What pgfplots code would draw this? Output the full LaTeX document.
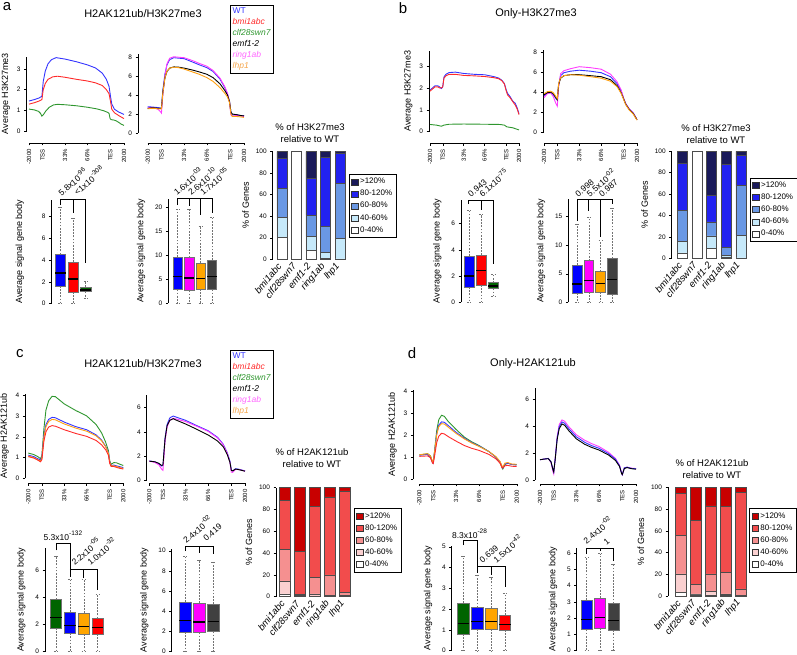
\documentclass[border=0pt]{standalone}
\usepackage{fontspec}
\setmainfont{Liberation Sans}
\usepackage{pgfplots}
\pgfplotsset{compat=1.18}
\usepgfplotslibrary{statistics}

\definecolor{cWT}{HTML}{3535FF}
\definecolor{cbmi}{HTML}{FF2A2A}
\definecolor{cclf}{HTML}{2E962E}
\definecolor{cemf}{HTML}{000000}
\definecolor{cring}{HTML}{FF3CFF}
\definecolor{clhp}{HTML}{FFA010}
\definecolor{tring}{HTML}{FF66FF}
\definecolor{tlhp}{HTML}{F5A54A}
\definecolor{bWT}{HTML}{0000FF}
\definecolor{bbmi}{HTML}{FF0000}
\definecolor{bclf}{HTML}{006400}
\definecolor{bemf}{HTML}{404040}
\definecolor{bring}{HTML}{FF00FF}
\definecolor{blhp}{HTML}{FFA500}
\definecolor{sA}{HTML}{FFFFFF}
\definecolor{sB}{HTML}{C6E9FA}
\definecolor{sC}{HTML}{6A98E4}
\definecolor{sD}{HTML}{2222F0}
\definecolor{sE}{HTML}{1A1A5A}
\definecolor{rB}{HTML}{FAD0D0}
\definecolor{rC}{HTML}{F59090}
\definecolor{rD}{HTML}{F24C4C}
\definecolor{rE}{HTML}{C80000}

\pgfplotsset{
  base/.style={scale only axis, anchor=south west, clip=false,
    /pgf/number format/assume math mode=true,
    tick align=outside, major tick length=2.5pt, tick style={black, line width=0.4pt},
    axis line style={line width=0.45pt},
    tick label style={font=\fontsize{6.5}{7}\selectfont},
    label style={font=\fontsize{9}{10}\selectfont}},
  prof/.style={base, axis x line*=bottom, axis y line*=left, xmin=0, xmax=140, ymin=0,
    xtick={0,20,53,86,120,140}, xticklabels={-2000,TSS,33\%,66\%,TES,2000},
    xticklabel style={rotate=90, anchor=east, font=\fontsize{6}{7}\selectfont}},
  prl/.style={line width=0.9pt, no markers},
  bxp/.style={base, axis x line=none, axis y line*=left, ymin=0,
    ylabel={Average signal gene body}, ylabel style={yshift=3pt},
    boxplot/draw direction=y,
    boxplot/box extend=0.82, boxplot/whisker extend=0.3,
    boxplot/every median/.style={draw=black, fill=none, solid, line width=1.2pt},
    boxplot/every whisker/.style={draw=black!55, fill=none, line width=0.45pt, dash pattern=on 1.8pt off 1.3pt}},
  stk/.style={base, ybar stacked, bar width=10pt, axis x line*=bottom, axis y line*=left,
    x axis line style={draw=none}, xtick style={draw=none},
    ymin=0, ymax=100, ytick={0,20,...,100}, xtick={1,...,5},
    xticklabels={bmi1abc,clf28swn7,emf1-2,ring1ab,lhp1},
    xticklabel style={rotate=50, anchor=east, font=\fontsize{9.5}{10}\selectfont\itshape},
    ylabel={\% of Genes}, reverse legend,
    legend style={draw=black, anchor=north west, font=\fontsize{8}{9}\selectfont,
      inner sep=2pt, row sep=1pt, cells={anchor=west}},
    legend image code/.code={\draw[#1,draw=black!80] (0pt,-3pt) rectangle (6.5pt,3pt);},
    every axis plot/.append style={draw=black!70, line width=0.4pt}},
}
\tikzset{pv/.style={rotate=40, anchor=south west, inner sep=0.5pt, font=\fontsize{8.5}{9}\selectfont},
  br/.style={line width=0.6pt}}
\newcommand\ex[1]{\raisebox{0.5em}{\fontsize{6.5}{7}\selectfont #1}}
\newcommand\bx[7]{\addplot[boxplot prepared={draw position=#1,lower whisker=#2,lower quartile=#3,median=#4,upper quartile=#5,upper whisker=#6},boxplot/draw direction=y,fill=#7,draw=black!55] coordinates {};}

\begin{document}
\begin{tikzpicture}
\path[use as bounding box] (0,0) rectangle (797pt,655pt);

% ---------------- panel a
\node[font=\fontsize{15}{15}\selectfont, inner sep=0pt] at (7pt,648pt) {a};
\node[font=\fontsize{11}{12}\selectfont] at (143pt,641pt) {H2AK121ub/H3K27me3};
\node[draw, anchor=north west, align=left, inner sep=2.5pt, font=\fontsize{8.5}{11}\selectfont] at (230pt,650pt)
 {\textcolor{cWT}{WT}\\\textcolor{cbmi}{\itshape bmi1abc}\\\textcolor{cclf}{\itshape clf28swn7}\\{\itshape emf1-2}\\\textcolor{tring}{\itshape ring1ab}\\\textcolor{tlhp}{\itshape lhp1}};

\begin{axis}[prof, at={(29pt,524pt)}, width=95pt, height=74.4pt, ymax=3.6, ytick={0,1,2,3},
  axis x line shift=12pt, axis y line shift=2.5pt, ylabel={Average H3K27me3}]
\addplot[prl, cWT] coordinates {(0,1.45)(8,1.52)(15,1.6)(19,1.68)(21,2.4)(24,2.9)(28,3.25)(33,3.45)(40,3.55)(53,3.48)(70,3.35)(86,3.2)(98,3.05)(108,2.8)(114,2.5)(118,2.15)(120,1.7)(122,1.3)(126,1.05)(132,0.92)(140,0.8)};
\addplot[prl, cbmi] coordinates {(0,1.3)(8,1.37)(15,1.45)(19,1.52)(21,2.0)(24,2.3)(28,2.5)(35,2.62)(42,2.65)(53,2.6)(70,2.5)(86,2.42)(98,2.33)(108,2.2)(114,2.0)(118,1.8)(120,1.45)(122,1.05)(126,0.88)(132,0.75)(140,0.6)};
\addplot[prl, cclf] coordinates {(0,1.06)(8,1.02)(14,0.95)(17,0.85)(19,0.72)(21,0.78)(25,0.98)(30,1.15)(36,1.26)(42,1.29)(53,1.27)(70,1.22)(86,1.15)(100,1.07)(110,0.98)(116,0.9)(118,0.85)(119.5,0.6)(121,0.55)(125,0.53)(128,0.5)(132,0.42)(136,0.33)(140,0.27)};
\end{axis}

\begin{axis}[prof, at={(147.7pt,522pt)}, width=96.3pt, height=78.6pt, ymax=8.3, ytick={0,2,4,6,8},
  axis x line shift=10pt, axis y line shift=9.7pt]
\addplot[prl, cWT] coordinates {(0,2.75)(5,2.75)(10,2.72)(15,2.68)(18,2.65)(20,2.6)(22,4.5)(25,6.2)(28,7.2)(32,7.75)(38,7.95)(45,7.9)(53,7.85)(65,7.5)(75,7.2)(86,6.9)(95,6.5)(105,5.7)(112,4.8)(116,4.1)(119,3.3)(121,2.2)(123,1.9)(128,1.95)(135,1.85)(140,1.8)};
\addplot[prl, cring] coordinates {(0,2.65)(5,2.7)(10,2.65)(15,2.5)(18,2.3)(20,2.1)(22,4.0)(25,6.0)(28,7.3)(32,7.9)(38,8.05)(45,8.0)(53,7.95)(65,7.65)(75,7.35)(86,7.05)(95,6.6)(105,5.8)(112,4.9)(116,4.2)(119,3.2)(121,1.9)(123,1.75)(128,1.85)(135,1.8)(140,1.75)};
\addplot[prl, cemf] coordinates {(0,2.6)(5,2.65)(10,2.65)(15,2.6)(18,2.6)(20,2.6)(22,4.3)(25,5.8)(28,6.5)(32,6.85)(38,6.98)(45,6.95)(53,6.85)(65,6.65)(75,6.45)(86,6.2)(95,5.85)(105,5.2)(112,4.5)(116,4.0)(119,3.3)(121,2.2)(123,2.0)(128,1.95)(135,1.85)(140,1.8)};
\addplot[prl, clhp] coordinates {(0,2.55)(5,2.6)(10,2.6)(15,2.55)(18,2.55)(20,2.55)(22,4.2)(25,5.8)(28,6.55)(32,6.85)(38,6.95)(45,6.9)(53,6.75)(65,6.45)(75,6.2)(86,5.85)(95,5.45)(105,4.8)(112,4.2)(116,3.8)(119,3.2)(121,2.0)(123,1.75)(128,1.75)(135,1.7)(140,1.65)};
\end{axis}

\begin{axis}[bxp, at={(51.4pt,351.3pt)}, width=43.2pt, height=104.1pt, xmin=0.3, xmax=3.7, ymax=9.5, ytick={0,2,4,6,8}, ylabel style={yshift=8pt}]
\bx{1}{0}{1.6}{2.8}{4.5}{8.8}{bWT}
\bx{2}{0}{1.05}{2.25}{3.8}{7.8}{bbmi}
\bx{3}{0.5}{1.1}{1.25}{1.5}{2.05}{bclf}
\draw[br] (axis cs:1,9.0) -- (axis cs:1,9.5) -- (axis cs:3,9.5) -- (axis cs:3,3.7);
\draw[br] (axis cs:2,9.5) -- (axis cs:2,8.25);
\node[pv] at (axis cs:1.1,9.7) {5.8x10\ex{-96}};
\node[pv] at (axis cs:2.35,9.8) {<1x10\ex{-308}};
\end{axis}

\begin{axis}[bxp, at={(168.3pt,352pt)}, width=50.4pt, height=104.2pt, xmin=0.18, xmax=4.6, ymax=21.7, ytick={0,5,10,15,20}]
\bx{1}{0}{2.8}{5.5}{9.6}{19.5}{bWT}
\bx{2}{0}{2.6}{5.2}{9.5}{19.5}{bring}
\bx{3}{0}{2.9}{5.1}{8.3}{16}{blhp}
\bx{4}{0}{2.8}{5.5}{9.0}{17.8}{bemf}
\draw[br] (axis cs:1,20.4) -- (axis cs:1,21.7) -- (axis cs:4,21.7) -- (axis cs:4,18.7);
\draw[br] (axis cs:2,21.7) -- (axis cs:2,20.1);
\draw[br] (axis cs:3,21.7) -- (axis cs:3,18.3);
\node[pv] at (axis cs:0.95,22.1) {1.6x10\ex{-03}};
\node[pv] at (axis cs:2.2,22.1) {2.6x10\ex{-10}};
\node[pv] at (axis cs:3.25,22.1) {1.7x10\ex{-05}};
\end{axis}

\node[font=\fontsize{9.5}{12}\selectfont, align=center] at (310pt,522pt) {\% of H3K27me3\\relative to WT};
\begin{axis}[stk, at={(272.7pt,395.7pt)}, width=73.3pt, height=107.7pt, xmin=0.38, xmax=5.4,
  legend style={at={(1.041,0.792)}}]
\addplot[fill=sA] coordinates {(1,20.5)(2,100)(3,8)(4,1)(5,0.5)};
\addplot[fill=sB] coordinates {(1,18.5)(2,0)(3,13)(4,5.5)(5,19)};
\addplot[fill=sC] coordinates {(1,27)(2,0)(3,20)(4,24)(5,51)};
\addplot[fill=sD] coordinates {(1,28)(2,0)(3,34)(4,64)(5,28)};
\addplot[fill=sE] coordinates {(1,6)(2,0)(3,25)(4,5.5)(5,1.5)};
\legend{0-40\%,40-60\%,60-80\%,80-120\%,>120\%}
\end{axis}

% ---------------- panel b
\node[font=\fontsize{15}{15}\selectfont, inner sep=0pt] at (403pt,647pt) {b};
\node[font=\fontsize{11}{12}\selectfont] at (536pt,641pt) {Only-H3K27me3};

\begin{axis}[prof, at={(430pt,523.3pt)}, width=89pt, height=81pt, ymax=3.7, ytick={0,1,2,3},
  axis x line shift=11.6pt, axis y line shift=1pt, ylabel={Average H3K27me3}]
\addplot[prl, cWT] coordinates {(0,1.9)(4,2.0)(8,2.1)(12,2.1)(15,2.05)(18,1.97)(20,2.05)(22,2.5)(25,2.62)(30,2.7)(40,2.72)(53,2.66)(70,2.62)(86,2.6)(100,2.52)(108,2.45)(113,2.35)(117,2.2)(120,1.9)(122,1.75)(126,1.6)(130,1.4)(134,1.3)(137,1.1)(140,0.82)};
\addplot[prl, cbmi] coordinates {(0,1.85)(4,1.95)(8,2.05)(12,2.05)(15,2.0)(18,2.0)(20,2.05)(22,2.45)(25,2.55)(30,2.62)(40,2.62)(53,2.57)(70,2.55)(86,2.52)(100,2.47)(108,2.42)(113,2.33)(117,2.18)(120,1.85)(122,1.68)(126,1.55)(130,1.38)(134,1.22)(137,1.05)(140,0.78)};
\addplot[prl, cclf] coordinates {(0,0.33)(10,0.3)(18,0.25)(22,0.3)(30,0.34)(53,0.35)(86,0.34)(110,0.33)(117,0.3)(121,0.22)(130,0.18)(140,0.08)};
\end{axis}

\begin{axis}[prof, at={(544pt,522.3pt)}, width=93pt, height=83pt, ymax=8.3, ytick={0,2,4,6,8},
  axis x line shift=10.5pt, axis y line shift=1pt]
\addplot[prl, cWT] coordinates {(0,3.7)(5,3.95)(10,4.0)(14,3.8)(18,3.4)(20,3.25)(22,4.8)(25,5.7)(30,6.0)(40,6.15)(53,6.25)(70,6.15)(86,6.0)(100,5.6)(110,4.9)(116,4.2)(120,3.4)(123,2.9)(128,2.4)(134,2.0)(140,1.3)};
\addplot[prl, cring] coordinates {(0,3.5)(5,3.9)(10,4.0)(14,3.6)(18,2.9)(20,2.65)(22,4.6)(25,5.9)(30,6.2)(40,6.4)(53,6.6)(70,6.5)(86,6.35)(100,5.85)(110,5.1)(116,4.3)(120,3.4)(123,2.9)(128,2.4)(134,2.0)(140,1.3)};
\addplot[prl, cemf] coordinates {(0,3.8)(5,4.0)(10,4.05)(14,3.9)(18,3.5)(20,3.3)(22,4.8)(25,5.45)(30,5.7)(40,5.8)(53,5.8)(70,5.7)(86,5.6)(100,5.3)(110,4.7)(116,4.0)(120,3.35)(123,2.85)(128,2.35)(134,1.95)(140,1.3)};
\addplot[prl, clhp] coordinates {(0,3.9)(5,4.1)(10,4.15)(14,4.0)(18,3.6)(20,3.4)(22,4.9)(25,5.5)(30,5.7)(40,5.8)(53,5.75)(70,5.6)(86,5.45)(100,5.15)(110,4.6)(116,3.95)(120,3.3)(123,2.8)(128,2.3)(134,1.9)(140,1.25)};
\end{axis}

\begin{axis}[bxp, at={(461pt,352.7pt)}, width=39.7pt, height=102.2pt, xmin=0.37, xmax=3.6, ymax=7.8, ytick={0,2,4,6}]
\bx{1}{0}{1.15}{2.0}{3.55}{7.05}{bWT}
\bx{2}{0}{1.3}{2.4}{3.6}{6.7}{bbmi}
\bx{3}{0.45}{1.05}{1.25}{1.5}{2.15}{bclf}
\draw[br] (axis cs:1,7.5) -- (axis cs:1,7.8) -- (axis cs:3,7.8) -- (axis cs:3,2.95);
\draw[br] (axis cs:2,7.8) -- (axis cs:2,7.05);
\node[pv] at (axis cs:1.2,7.95) {0.943};
\node[pv] at (axis cs:2.12,7.95) {6.1x10\ex{-75}};
\end{axis}

\begin{axis}[bxp, at={(568.3pt,352.7pt)}, width=50.8pt, height=102.8pt, xmin=0.25, xmax=4.6, ymax=18, ytick={0,5,10,15}]
\bx{1}{0}{1.6}{3.2}{6.5}{13.7}{bWT}
\bx{2}{0}{1.8}{3.8}{7.3}{14.9}{bring}
\bx{3}{0}{1.8}{3.3}{5.4}{10.8}{blhp}
\bx{4}{0}{1.5}{4.0}{7.7}{16.5}{bemf}
\draw[br] (axis cs:1,14.3) -- (axis cs:1,18) -- (axis cs:4,18) -- (axis cs:4,17.2);
\draw[br] (axis cs:2,18) -- (axis cs:2,16.0);
\draw[br] (axis cs:3,18) -- (axis cs:3,11.5);
\node[pv] at (axis cs:1.1,18.2) {0.998};
\node[pv] at (axis cs:2.1,18.2) {5.5x10\ex{-02}};
\node[pv] at (axis cs:3.15,18.2) {0.987};
\end{axis}

\node[font=\fontsize{9.5}{12}\selectfont, align=center] at (716pt,521pt) {\% of H3K27me3\\relative to WT};
\begin{axis}[stk, at={(671.7pt,396.7pt)}, width=74.9pt, height=107pt, xmin=0.27, xmax=5.4,
  legend style={at={(1.045,0.753)}}]
\addplot[fill=sA] coordinates {(1,5)(2,100)(3,9)(4,1)(5,0.5)};
\addplot[fill=sB] coordinates {(1,11)(2,0)(3,12)(4,1.5)(5,21)};
\addplot[fill=sC] coordinates {(1,29)(2,0)(3,13)(4,8)(5,46.5)};
\addplot[fill=sD] coordinates {(1,43.5)(2,0)(3,25)(4,77.5)(5,28)};
\addplot[fill=sE] coordinates {(1,11.5)(2,0)(3,41)(4,12)(5,4)};
\legend{0-40\%,40-60\%,60-80\%,80-120\%,>120\%}
\end{axis}

% ---------------- panel c
\node[font=\fontsize{15}{15}\selectfont, inner sep=0pt] at (20pt,301pt) {c};
\node[font=\fontsize{11}{12}\selectfont] at (143pt,291pt) {H2AK121ub/H3K27me3};
\node[draw, anchor=north west, align=left, inner sep=2.5pt, font=\fontsize{8.5}{11}\selectfont] at (230pt,305pt)
 {\textcolor{cWT}{WT}\\\textcolor{cbmi}{\itshape bmi1abc}\\\textcolor{cclf}{\itshape clf28swn7}\\{\itshape emf1-2}\\\textcolor{tring}{\itshape ring1ab}\\\textcolor{tlhp}{\itshape lhp1}};

\begin{axis}[prof, at={(28.3pt,176.7pt)}, width=95pt, height=84.7pt, ymax=4.1, ytick={0,1,2,3,4},
  axis x line shift=5pt, axis y line shift=3pt, ylabel={Average H2AK121ub}]
\addplot[prl, cclf] coordinates {(0,1.22)(8,1.15)(14,1.05)(18,0.95)(20,1.1)(23,2.4)(26,3.3)(30,3.75)(35,3.97)(40,3.95)(53,3.6)(70,3.28)(86,3.02)(100,2.6)(108,2.2)(114,1.75)(118,1.35)(120,0.85)(122,0.68)(126,0.76)(130,0.75)(135,0.68)(140,0.62)};
\addplot[prl, cWT] coordinates {(0,1.12)(8,1.05)(14,0.95)(18,0.88)(20,1.0)(23,2.1)(26,2.6)(30,2.85)(35,2.95)(40,2.93)(53,2.72)(70,2.5)(86,2.35)(100,2.1)(108,1.85)(114,1.55)(118,1.25)(120,0.8)(122,0.62)(126,0.64)(130,0.6)(135,0.56)(140,0.52)};
\addplot[prl, clhp] coordinates {(0,1.08)(8,1.0)(14,0.9)(18,0.83)(20,0.95)(23,2.0)(26,2.5)(30,2.75)(35,2.85)(40,2.83)(53,2.63)(70,2.43)(86,2.28)(100,2.05)(108,1.82)(114,1.52)(118,1.22)(120,0.78)(122,0.6)(126,0.6)(130,0.57)(135,0.52)(140,0.48)};
\addplot[prl, cbmi] coordinates {(0,1.05)(8,0.98)(14,0.88)(18,0.8)(20,0.9)(23,1.8)(26,2.25)(30,2.48)(35,2.55)(40,2.52)(53,2.35)(70,2.17)(86,2.03)(100,1.83)(108,1.62)(114,1.38)(118,1.12)(120,0.72)(122,0.58)(126,0.57)(130,0.53)(135,0.48)(140,0.45)};
\end{axis}

\begin{axis}[prof, at={(149.3pt,174.3pt)}, width=95.7pt, height=85.4pt, ymax=7, ytick={0,2,4,6},
  axis x line shift=2.6pt, axis y line shift=2.6pt]
\addplot[prl, cWT] coordinates {(0,1.62)(8,1.55)(14,1.4)(18,1.2)(20,1.25)(23,3.5)(26,4.6)(30,5.15)(35,5.3)(40,5.2)(53,4.95)(70,4.5)(86,4.1)(100,3.55)(108,3.0)(114,2.3)(118,1.6)(120,0.85)(122,0.8)(126,0.98)(130,0.95)(135,0.88)(140,0.8)};
\addplot[prl, cring] coordinates {(0,1.6)(8,1.5)(14,1.3)(18,0.95)(20,0.85)(23,3.2)(26,4.4)(30,4.95)(35,5.12)(40,5.05)(53,4.85)(70,4.45)(86,4.05)(100,3.5)(108,2.95)(114,2.25)(118,1.5)(120,0.7)(122,0.68)(126,0.92)(130,0.92)(135,0.86)(140,0.78)};
\addplot[prl, cemf] coordinates {(0,1.6)(8,1.55)(14,1.42)(18,1.25)(20,1.3)(23,3.4)(26,4.5)(30,4.95)(35,5.08)(40,4.95)(53,4.65)(70,4.2)(86,3.75)(100,3.25)(108,2.8)(114,2.15)(118,1.5)(120,0.85)(122,0.8)(126,0.95)(130,0.92)(135,0.85)(140,0.78)};
\end{axis}

\begin{axis}[bxp, at={(45pt,3.3pt)}, width=61pt, height=103.4pt, xmin=0.21, xmax=4.6, ymax=7.6, ytick={0,2,4,6}]
\bx{1}{0}{1.75}{2.5}{3.85}{7.05}{bclf}
\bx{2}{0}{1.35}{1.95}{2.9}{5.3}{bWT}
\bx{3}{0}{1.3}{1.85}{2.85}{5.3}{blhp}
\bx{4}{0}{1.3}{1.75}{2.45}{4.2}{bbmi}
\draw[br] (axis cs:1,7.45) -- (axis cs:1,8.0) -- (axis cs:2,8.0) -- (axis cs:2,5.5);
\draw[br] (axis cs:2,6.05) -- (axis cs:4,6.05) -- (axis cs:4,4.5);
\draw[br] (axis cs:3,6.05) -- (axis cs:3,5.45);
\node[anchor=south, inner sep=1pt, font=\fontsize{8.5}{9}\selectfont] at (axis cs:1.5,8.1) {5.3x10\ex{-132}};
\node[pv] at (axis cs:2.35,6.25) {2.2x10\ex{-05}};
\node[pv] at (axis cs:3.5,6.25) {1.0x10\ex{-32}};
\end{axis}

\begin{axis}[bxp, at={(171.7pt,3.3pt)}, width=50.1pt, height=103pt, xmin=0.06, xmax=3.6, ymax=10.2, ytick={0,2,4,6,8,10}]
\bx{1}{0}{1.95}{3.05}{4.95}{9.5}{bWT}
\bx{2}{0}{1.9}{2.95}{4.8}{9.1}{bring}
\bx{3}{0}{2.0}{3.0}{4.75}{8.9}{bemf}
\draw[br] (axis cs:1,10.0) -- (axis cs:1,10.4) -- (axis cs:3,10.4) -- (axis cs:3,9.67);
\draw[br] (axis cs:2,10.4) -- (axis cs:2,9.74);
\node[pv] at (axis cs:1.1,10.6) {2.4x10\ex{-02}};
\node[pv] at (axis cs:2.5,10.8) {0.419};
\end{axis}

\node[font=\fontsize{9.5}{12}\selectfont, align=center] at (312pt,196.5pt) {\% of H2AK121ub\\relative to WT};
\begin{axis}[stk, at={(276pt,58.3pt)}, width=75pt, height=109pt, xmin=0.4, xmax=5.4, bar width=11pt,
  legend style={at={(1.04,0.811)}}]
\addplot[fill=sA] coordinates {(1,2.5)(2,0.5)(3,0.5)(4,0.5)(5,0.5)};
\addplot[fill=rB] coordinates {(1,12)(2,0.5)(3,2)(4,0.5)(5,0.5)};
\addplot[fill=rC] coordinates {(1,29)(2,1)(3,15.5)(4,19)(5,3)};
\addplot[fill=rD] coordinates {(1,45)(2,39.5)(3,65)(4,71.5)(5,93)};
\addplot[fill=rE] coordinates {(1,11.5)(2,58.5)(3,17)(4,8.5)(5,3)};
\legend{0-40\%,40-60\%,60-80\%,80-120\%,>120\%}
\end{axis}

% ---------------- panel d
\node[font=\fontsize{15}{15}\selectfont, inner sep=0pt] at (412pt,302.3pt) {d};
\node[font=\fontsize{11}{12}\selectfont] at (533pt,291pt) {Only-H2AK121ub};

\begin{axis}[prof, at={(419.3pt,176pt)}, width=97.4pt, height=89pt, ymax=4.05, ytick={0,1,2,3,4},
  axis x line shift=5pt, axis y line shift=6pt, ylabel={Average H2AK121ub}]
\addplot[prl, cclf] coordinates {(0,1.1)(6,1.12)(12,1.15)(16,1.05)(19,0.78)(20,0.75)(22,1.3)(25,2.2)(28,2.7)(32,2.9)(36,2.85)(42,2.6)(53,2.25)(65,1.9)(75,1.7)(86,1.52)(100,1.25)(110,1.0)(116,0.75)(119,0.5)(120,0.45)(123,0.65)(127,0.72)(133,0.66)(140,0.65)};
\addplot[prl, cWT] coordinates {(0,1.08)(6,1.1)(12,1.12)(16,1.0)(19,0.75)(20,0.72)(22,1.25)(25,2.05)(28,2.45)(32,2.6)(36,2.58)(42,2.42)(53,2.12)(65,1.85)(75,1.66)(86,1.5)(100,1.25)(110,1.0)(116,0.78)(119,0.55)(120,0.5)(123,0.68)(127,0.72)(133,0.66)(140,0.64)};
\addplot[prl, clhp] coordinates {(0,1.1)(6,1.13)(12,1.15)(16,1.05)(19,0.78)(20,0.75)(22,1.25)(25,2.0)(28,2.38)(32,2.52)(36,2.5)(42,2.35)(53,2.07)(65,1.82)(75,1.64)(86,1.48)(100,1.25)(110,1.02)(116,0.8)(119,0.58)(120,0.55)(123,0.72)(127,0.75)(133,0.68)(140,0.67)};
\addplot[prl, cbmi] coordinates {(0,1.03)(6,1.04)(12,1.05)(16,0.97)(19,0.72)(20,0.7)(22,1.05)(25,1.65)(28,1.95)(32,2.08)(36,2.05)(42,1.92)(53,1.72)(65,1.52)(75,1.4)(86,1.3)(100,1.12)(110,0.92)(116,0.72)(119,0.52)(120,0.5)(123,0.6)(127,0.62)(133,0.58)(140,0.57)};
\end{axis}

\begin{axis}[prof, at={(540pt,175pt)}, width=96pt, height=91.8pt, ymax=6.8, ytick={0,2,4,6},
  axis x line shift=4pt, axis y line shift=5pt]
\addplot[prl, cring] coordinates {(0,1.5)(6,1.55)(12,1.6)(16,1.3)(19,0.6)(20,0.45)(22,1.5)(25,3.2)(28,4.1)(32,4.45)(36,4.35)(42,3.95)(53,3.35)(65,2.95)(75,2.7)(86,2.48)(100,2.05)(110,1.6)(116,1.1)(119,0.5)(120,0.38)(123,0.9)(127,0.95)(133,0.88)(140,0.85)};
\addplot[prl, cWT] coordinates {(0,1.5)(6,1.55)(12,1.6)(16,1.35)(19,0.75)(20,0.6)(22,1.5)(25,3.1)(28,3.95)(32,4.3)(36,4.2)(42,3.8)(53,3.2)(65,2.8)(75,2.55)(86,2.35)(100,1.95)(110,1.55)(116,1.05)(119,0.5)(120,0.4)(123,0.9)(127,0.95)(133,0.86)(140,0.83)};
\addplot[prl, cemf] coordinates {(0,1.5)(6,1.55)(12,1.58)(16,1.35)(19,0.75)(20,0.6)(22,1.45)(25,3.0)(28,3.8)(32,4.15)(36,4.05)(42,3.65)(53,3.05)(65,2.65)(75,2.42)(86,2.22)(100,1.85)(110,1.45)(116,1.0)(119,0.48)(120,0.4)(123,0.85)(127,0.92)(133,0.84)(140,0.8)};
\end{axis}

\begin{axis}[bxp, at={(451.7pt,4.3pt)}, width=61.6pt, height=105pt, xmin=0.17, xmax=4.6, ymax=5.05, ytick={0,1,2,3,4,5}]
\bx{1}{0}{0.8}{1.3}{2.3}{4.55}{bclf}
\bx{2}{0}{1.05}{1.4}{2.08}{3.65}{bWT}
\bx{3}{0}{1.05}{1.4}{2.05}{3.55}{blhp}
\bx{4}{0}{1.0}{1.27}{1.72}{2.75}{bbmi}
\draw[br] (axis cs:1,5.08) -- (axis cs:1,5.3) -- (axis cs:2,5.3) -- (axis cs:2,3.75);
\draw[br] (axis cs:2,4.04) -- (axis cs:4,4.04) -- (axis cs:4,3.08);
\draw[br] (axis cs:3,4.04) -- (axis cs:3,3.64);
\node[anchor=south, inner sep=1pt, font=\fontsize{8.5}{9}\selectfont] at (axis cs:1.45,5.35) {8.3x10\ex{-28}};
\node[pv] at (axis cs:2.4,4.15) {0.639};
\node[pv] at (axis cs:3.4,4.15) {1.5x10\ex{-42}};
\end{axis}

\begin{axis}[bxp, at={(576.7pt,4.3pt)}, width=44.6pt, height=102.7pt, xmin=0.25, xmax=3.6, ymax=6.3, ytick={0,1,2,3,4,5,6}]
\bx{1}{0}{1.3}{1.9}{3.1}{5.75}{bWT}
\bx{2}{0}{1.4}{2.05}{3.25}{5.95}{bring}
\bx{3}{0}{1.25}{1.85}{2.9}{5.3}{bemf}
\draw[br] (axis cs:1,5.95) -- (axis cs:1,6.3) -- (axis cs:3,6.3) -- (axis cs:3,5.5);
\draw[br] (axis cs:2,6.3) -- (axis cs:2,6.1);
\node[pv] at (axis cs:1.0,6.45) {2.4x10\ex{-02}};
\node[pv] at (axis cs:2.5,6.4) {1};
\end{axis}

\node[font=\fontsize{9.5}{12}\selectfont, align=center] at (712pt,185.5pt) {\% of H2AK121ub\\relative to WT};
\begin{axis}[stk, at={(668pt,59pt)}, width=79pt, height=108.5pt, xmin=0.13, xmax=5.4, bar width=11pt,
  legend style={at={(1.029,0.808)}}]
\addplot[fill=sA] coordinates {(1,3.5)(2,1)(3,1)(4,0.5)(5,0.5)};
\addplot[fill=rB] coordinates {(1,17)(2,1)(3,3)(4,1.5)(5,0)};
\addplot[fill=rC] coordinates {(1,35.5)(2,9)(3,16.5)(4,19.5)(5,6)};
\addplot[fill=rD] coordinates {(1,38.5)(2,58.5)(3,62.5)(4,61)(5,89)};
\addplot[fill=rE] coordinates {(1,5.5)(2,30.5)(3,17)(4,17.5)(5,4.5)};
\legend{0-40\%,40-60\%,60-80\%,80-120\%,>120\%}
\end{axis}

\end{tikzpicture}
\end{document}
